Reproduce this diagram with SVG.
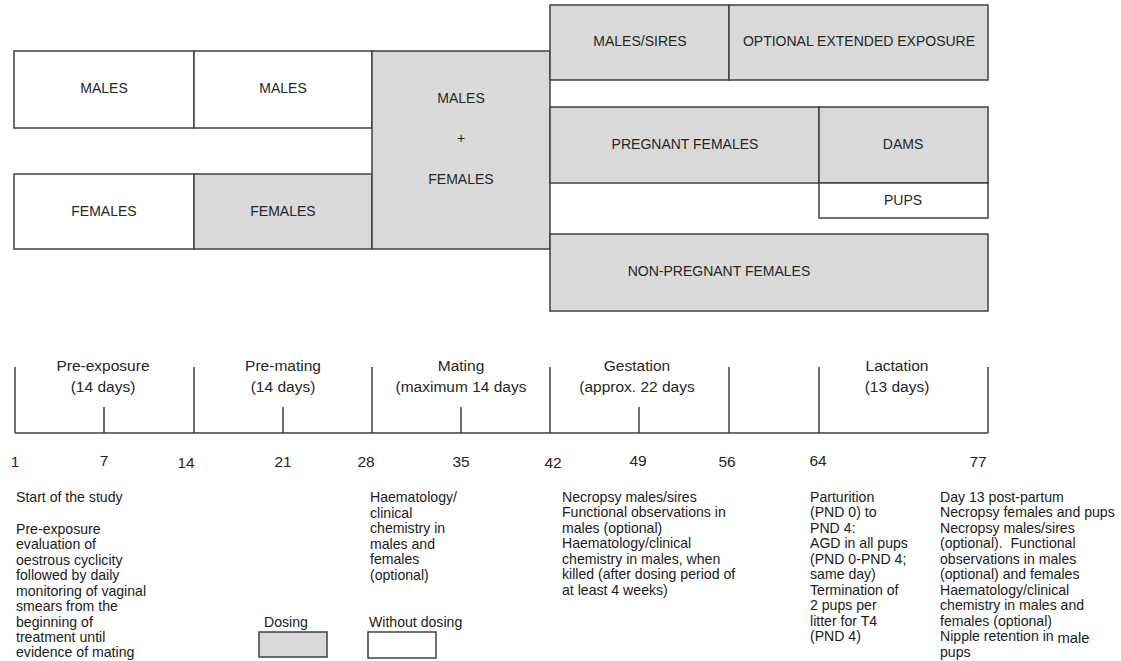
<svg xmlns="http://www.w3.org/2000/svg" width="1121" height="661" viewBox="0 0 1121 661">
<style>
.g{fill:#d9d9d9;stroke:#404040;stroke-width:1.5}
.w{fill:#ffffff;stroke:#404040;stroke-width:1.5}
.bl{font-family:"Liberation Sans",Arial,sans-serif;font-size:14px;fill:#262626;text-anchor:middle}
.tl{font-family:"Liberation Sans",Arial,sans-serif;font-size:15.5px;fill:#262626;text-anchor:middle}
.tx{font-family:"Liberation Sans",Arial,sans-serif;font-size:14.1px;fill:#1a1a1a}
.ax{stroke:#404040;stroke-width:1.5;fill:none}
</style>
<rect width="1121" height="661" fill="#ffffff"/>
<g id="males1"><rect class="w" x="14" y="51" width="180" height="77"/><text class="bl" x="104" y="93">MALES</text></g>
<g id="males2"><rect class="w" x="194" y="51" width="178" height="77"/><text class="bl" x="283" y="93">MALES</text></g>
<g id="females1"><rect class="w" x="14" y="174" width="180" height="75"/><text class="bl" x="104" y="216">FEMALES</text></g>
<g id="females2"><rect class="g" x="194" y="174" width="178" height="75"/><text class="bl" x="283" y="216">FEMALES</text></g>
<g id="malesfemales"><rect class="g" x="372" y="51" width="178" height="198"/><text class="bl" x="461" y="103">MALES</text><text class="bl" x="461" y="143">+</text><text class="bl" x="461" y="184">FEMALES</text></g>
<g id="sires"><rect class="g" x="550" y="5" width="179" height="75"/><text class="bl" x="640" y="46">MALES/SIRES</text></g>
<g id="extended"><rect class="g" x="729" y="5" width="259" height="75"/><text class="bl" x="859" y="46">OPTIONAL EXTENDED EXPOSURE</text></g>
<g id="pregnant"><rect class="g" x="550" y="107" width="269" height="76"/><text class="bl" x="685" y="149">PREGNANT FEMALES</text></g>
<g id="dams"><rect class="g" x="819" y="107" width="169" height="76"/><text class="bl" x="903" y="149">DAMS</text></g>
<g id="pups"><rect class="w" x="819" y="183" width="169" height="35"/><text class="bl" x="903" y="205">PUPS</text></g>
<g id="nonpregnant"><rect class="g" x="550" y="234" width="438" height="77"/><text class="bl" x="719" y="276">NON-PREGNANT FEMALES</text></g>
<g id="connectors">
<path class="ax" d="M15 433H988M15 367V433M194 367V433M372 367V433M550 367V433M729 367V433M819 367V433M988 367V433M104 407V433M283 407V433M461 407V433M639 407V433"/>
</g>
<g id="timeline-labels">
<text class="tl" x="103" y="371">Pre-exposure</text><text class="tl" x="103" y="392">(14 days)</text>
<text class="tl" x="283" y="371">Pre-mating</text><text class="tl" x="283" y="392">(14 days)</text>
<text class="tl" x="461" y="371">Mating</text><text class="tl" x="461" y="392">(maximum 14 days</text>
<text class="tl" x="637" y="371">Gestation</text><text class="tl" x="637" y="392">(approx. 22 days</text>
<text class="tl" x="897" y="371">Lactation</text><text class="tl" x="897" y="392">(13 days)</text>
</g>
<g id="day-numbers">
<text class="tl" x="15" y="467">1</text><text class="tl" x="104" y="466">7</text><text class="tl" x="186" y="468">14</text><text class="tl" x="283" y="467">21</text><text class="tl" x="366" y="467">28</text><text class="tl" x="461" y="467">35</text><text class="tl" x="553" y="468">42</text><text class="tl" x="638" y="466">49</text><text class="tl" x="727" y="467">56</text><text class="tl" x="818" y="466">64</text><text class="tl" x="978" y="467">77</text>
</g>
<g id="col1">
<text class="tx" x="16" y="502">Start of the study</text>
<text class="tx" x="16" y="534">Pre-exposure</text>
<text class="tx" x="16" y="549">evaluation of</text>
<text class="tx" x="16" y="565">oestrous cyclicity</text>
<text class="tx" x="16" y="580">followed by daily</text>
<text class="tx" x="16" y="596">monitoring of vaginal</text>
<text class="tx" x="16" y="611">smears from the</text>
<text class="tx" x="16" y="627">beginning of</text>
<text class="tx" x="16" y="642">treatment until</text>
<text class="tx" x="16" y="657">evidence of mating</text>
</g>
<g id="col2">
<text class="tx" x="370" y="502">Haematology/</text>
<text class="tx" x="370" y="518">clinical</text>
<text class="tx" x="370" y="533">chemistry in</text>
<text class="tx" x="370" y="549">males and</text>
<text class="tx" x="370" y="564">females</text>
<text class="tx" x="370" y="580">(optional)</text>
</g>
<g id="legend-dosing"><text class="tx" x="264" y="627">Dosing</text><rect class="g" x="259" y="632" width="68" height="25"/></g>
<g id="legend-without"><text class="tx" x="369" y="627">Without dosing</text><rect class="w" x="368" y="632" width="68" height="26"/></g>
<g id="col3">
<text class="tx" x="562" y="502">Necropsy males/sires</text>
<text class="tx" x="562" y="517">Functional observations in</text>
<text class="tx" x="562" y="533">males (optional)</text>
<text class="tx" x="562" y="548">Haematology/clinical</text>
<text class="tx" x="562" y="564">chemistry in males, when</text>
<text class="tx" x="562" y="579">killed (after dosing period of</text>
<text class="tx" x="562" y="595">at least 4 weeks)</text>
</g>
<g id="col4">
<text class="tx" x="810" y="502">Parturition</text>
<text class="tx" x="810" y="517">(PND 0) to</text>
<text class="tx" x="810" y="533">PND 4:</text>
<text class="tx" x="810" y="548">AGD in all pups</text>
<text class="tx" x="810" y="564">(PND 0-PND 4;</text>
<text class="tx" x="810" y="579">same day)</text>
<text class="tx" x="810" y="595">Termination of</text>
<text class="tx" x="810" y="610">2 pups per</text>
<text class="tx" x="810" y="626">litter for T4</text>
<text class="tx" x="810" y="641">(PND 4)</text>
</g>
<g id="col5">
<text class="tx" x="940" y="502">Day 13 post-partum</text>
<text class="tx" x="940" y="517">Necropsy females and pups</text>
<text class="tx" x="940" y="533">Necropsy males/sires</text>
<text class="tx" x="940" y="548" xml:space="preserve">(optional).  Functional</text>
<text class="tx" x="940" y="564">observations in males</text>
<text class="tx" x="940" y="579">(optional) and females</text>
<text class="tx" x="940" y="595">Haematology/clinical</text>
<text class="tx" x="940" y="610">chemistry in males and</text>
<text class="tx" x="940" y="626">females (optional)</text>
<text class="tx" x="940" y="641">Nipple retention in <tspan font-size="14.8px" dy="2">male</tspan></text>
<text class="tx" x="940" y="657">pups</text>
</g>
</svg>
